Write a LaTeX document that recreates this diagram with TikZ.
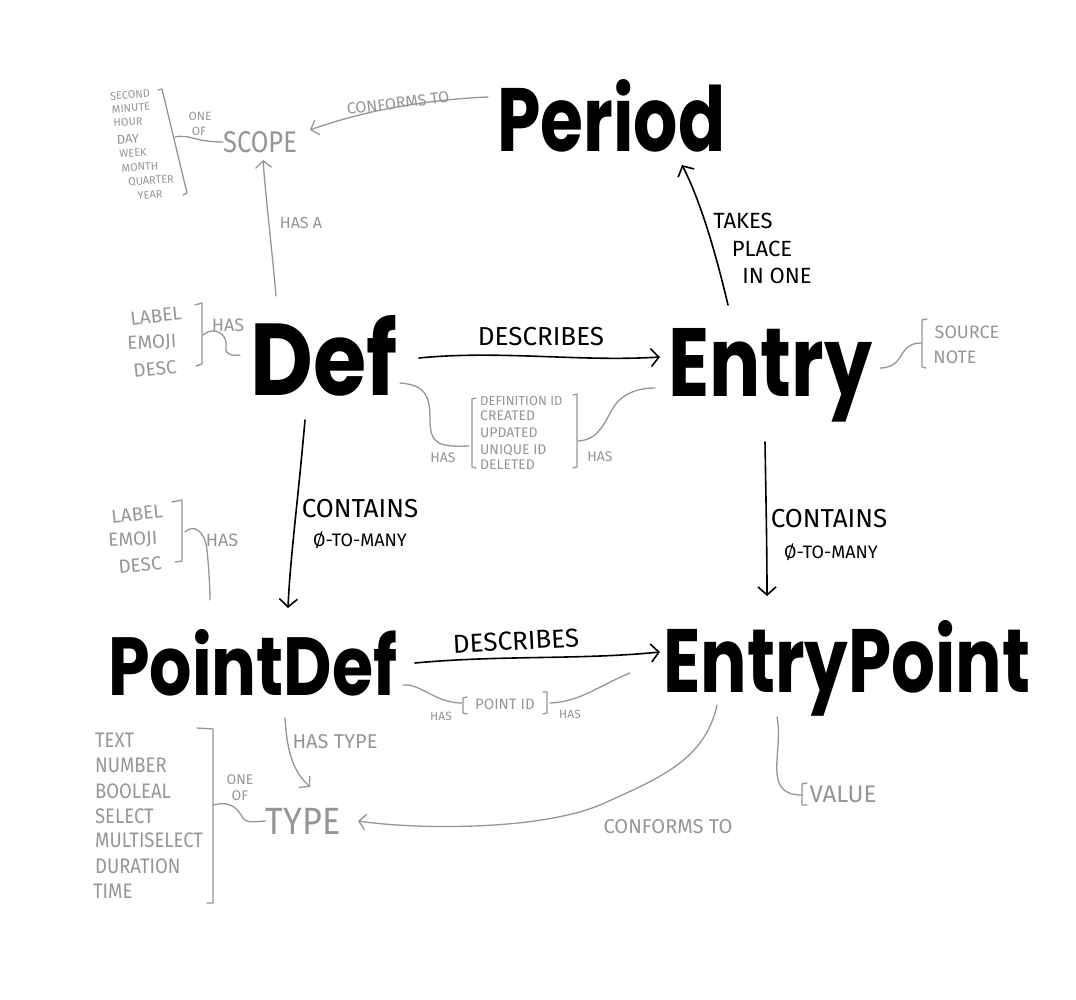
\documentclass[tikz,border=0pt]{standalone}
\usepackage{fontspec}
\setmainfont{Fira Sans}
\newfontfamily\bigf{Poppins}
\usetikzlibrary{arrows.meta}
\definecolor{gr}{RGB}{150,150,150}
\newcommand\bigword[3]{\resizebox{#1pt}{#2pt}{\bigf\bfseries #3}}
\begin{document}
\begin{tikzpicture}[x=1pt,y=-1pt,
  big/.style={inner sep=0,anchor=base west},
  gl/.style={inner sep=0,text=gr,font=\fontsize{#1}{#1}\selectfont},
  bl/.style={inner sep=0,text=black,font=\fontsize{#1}{#1}\selectfont},
  gline/.style={draw=gr,line width=1.3pt,line cap=round,line join=round},
  garr/.style={gline,-{Straight Barb[length=7pt,width=16pt]}},
  barr/.style={draw=black,line width=1.6pt,line cap=round,-{Straight Barb[length=8pt,width=18pt]}}]
\fill[white] (0,0) rectangle (1076,1000);
\useasboundingbox (0,0) rectangle (1076,1000);

% big words
\node[big] (period) at (497,152) {\bigword{228}{72}{Period}};
\node[big] (def) at (250,395) {\bigword{147}{80}{Def}};
\node[big] (entry) at (668,396) {\bigword{204}{68}{Entry}};
\node[big] (pointdef) at (108,695) {\bigword{289}{66}{PointDef}};
\node[big] (entrypoint) at (663,692) {\bigword{367}{72}{EntryPoint}};

% scope
\node[gl=30,xscale=0.85] (scope) at (260,142) {SCOPE};
\node[gl=16,rotate=7] (conf1) at (398,103) {CONFORMS TO};
\node[gl=12] (one1) at (200,116) {ONE};
\node[gl=12] (of1) at (199,131) {OF};
\node[gl=11,rotate=4] (s1) at (130,95) {SECOND};
\node[gl=11,rotate=4] (s2) at (131,108) {MINUTE};
\node[gl=11,rotate=3] (s3) at (128,122) {HOUR};
\node[gl=13,rotate=3] (s4) at (128,139) {DAY};
\node[gl=11,rotate=4] (s5) at (133,153) {WEEK};
\node[gl=11,rotate=4] (s6) at (140,167) {MONTH};
\node[gl=11,rotate=4] (s7) at (151,181) {QUARTER};
\node[gl=11,rotate=4] (s8) at (150,195) {YEAR};
\coordinate (sb1) at (158,90); \coordinate (sb2) at (162,89);
\coordinate (sb3) at (187,193); \coordinate (sb4) at (183,195);
\coordinate (sbm) at (175,137);
\draw[gline] (sb1) -- (sb2) -- (sb3) -- (sb4);
\draw[gline] (sbm) .. controls (190,134) and (195,142) .. (scope.west);
\coordinate (pc) at (488,97); \coordinate (sc1) at (310,130);
\draw[garr] (pc) .. controls (420,100) and (360,112) .. (sc1);
\coordinate (dtop) at (276,296); \coordinate (sc2) at (263,160);
\draw[garr] (dtop) .. controls (272,250) and (266,200) .. (sc2);
\node[gl=16] (hasa) at (301,223) {HAS A};

% main arrows
\coordinate (e1) at (728,305); \coordinate (p1) at (682,165);
\draw[barr] (e1) .. controls (715,250) and (700,200) .. (p1);
\node[bl=22] (takes) at (743,221) {TAKES};
\node[bl=22] (place) at (762,249) {PLACE};
\node[bl=22] (inone) at (777,276) {IN ONE};

\coordinate (d1) at (419,358); \coordinate (e2) at (660,357);
\draw[barr] (d1) .. controls (500,350) and (580,362) .. (e2);
\node[bl=26] (desc1) at (541,337) {DESCRIBES};

\coordinate (d2) at (305,420); \coordinate (pd1) at (288,608);
\draw[barr] (d2) .. controls (298,500) and (290,560) .. (pd1);
\node[bl=26] (cont1) at (360,509) {CONTAINS};
\node[bl=18] (many1) at (360,540) {Ø-TO-MANY};

\coordinate (e3) at (765,442); \coordinate (ep1) at (767,596);
\draw[barr] (e3) .. controls (766,500) and (767,550) .. (ep1);
\node[bl=26] (cont2) at (829,519) {CONTAINS};
\node[bl=18] (many2) at (831,552) {Ø-TO-MANY};

\coordinate (pd2) at (415,663); \coordinate (ep2) at (660,652);
\draw[barr] (pd2) .. controls (500,655) and (580,660) .. (ep2);
\node[bl=26,rotate=3] (desc2) at (516,641) {DESCRIBES};

% def attributes
\node[gl=19,rotate=6] (dl1) at (156,316) {LABEL};
\node[gl=19,rotate=3] (dl2) at (152,343) {EMOJI};
\node[gl=19,rotate=6] (dl3) at (155,369) {DESC};
\draw[gline] (195,305) -- (202,303) -- (202,364) -- (196,366);
\node[gl=18] (dhas) at (228,325) {HAS};
\coordinate (db) at (203,335); \coordinate (dd) at (240,355);
\draw[gline] (db) .. controls (215,325) and (228,335) .. (226,347) .. controls (225,355) and (232,356) .. (dd);

% shared attributes
\coordinate (d3) at (400,383); \coordinate (lb) at (469,446);
\draw[gline] (d3) .. controls (425,385) and (430,395) .. (430,420) .. controls (430,445) and (440,447) .. (lb);
\draw[gline] (476,398) -- (472,399) -- (472,467) -- (476,468);
\node[gl=14] (has2) at (443,458) {HAS};
\node[gl=13,anchor=west] (a1) at (480,401) {DEFINITION ID};
\node[gl=14,anchor=west] (a2) at (480,416) {CREATED};
\node[gl=14,anchor=west] (a3) at (480,433) {UPDATED};
\node[gl=14,anchor=west] (a4) at (480,450) {UNIQUE ID};
\node[gl=14,anchor=west] (a5) at (480,465) {DELETED};
\draw[gline] (573,395) -- (577,394) -- (577,467) -- (573,468);
\coordinate (rb) at (578,441); \coordinate (e4) at (655,388);
\draw[gline] (rb) .. controls (600,440) and (605,420) .. (615,405) .. controls (625,392) and (640,388) .. (e4);
\node[gl=14] (has3) at (600,457) {HAS};

% entry attributes
\coordinate (e5) at (880,368); \coordinate (srb) at (922,343);
\draw[gline] (e5) .. controls (898,368) and (900,355) .. (905,350) .. controls (910,344) and (915,343) .. (srb);
\draw[gline] (927,319) -- (922,320) -- (922,367) -- (926,368);
\node[gl=18] (src) at (967,332) {SOURCE};
\node[gl=18] (note) at (955,357) {NOTE};

% pointdef attributes
\node[gl=19,rotate=6] (pl1) at (137,514) {LABEL};
\node[gl=19,rotate=3] (pl2) at (133,540) {EMOJI};
\node[gl=19,rotate=5] (pl3) at (140,565) {DESC};
\draw[gline] (172,502) -- (182,500) -- (182,561) -- (175,562);
\node[gl=18] (phas) at (222,540) {HAS};
\coordinate (pb) at (185,532); \coordinate (pd3) at (210,600);
\draw[gline] (pb) .. controls (193,524) and (205,530) .. (207,550) .. controls (209,570) and (210,590) .. (pd3);

% point id
\coordinate (pd4) at (403,685); \coordinate (pil) at (462,703);
\draw[gline] (pd4) .. controls (420,683) and (435,703) .. (pil);
\node[gl=12] (has4) at (441,716) {HAS};
\draw[gline] (467,697) -- (463,698) -- (463,713) -- (467,714);
\node[gl=15] (pid) at (505,704) {POINT ID};
\draw[gline] (543,692) -- (547,692) -- (547,713) -- (543,714);
\coordinate (pir) at (550,703); \coordinate (ep3) at (630,673);
\draw[gline] (pir) .. controls (580,702) and (600,685) .. (ep3);
\node[gl=12] (has5) at (570,714) {HAS};

% type
\node[gl=38,xscale=0.9] (type) at (303,821) {TYPE};
\coordinate (pd5) at (285,718); \coordinate (ty1) at (310,787);
\draw[garr] (pd5) .. controls (287,750) and (292,770) .. (ty1);
\node[gl=20] (hastype) at (335,742) {HAS TYPE};
\node[gl=14] (one2) at (240,780) {ONE};
\node[gl=14] (of2) at (240,796) {OF};
\draw[gline] (197,728) -- (213,729) -- (213,903) -- (207,903);
\coordinate (tb) at (213,805);
\draw[gline] (tb) .. controls (232,800) and (238,810) .. (243,818) .. controls (247,823) and (250,822) .. (type.west);
\node[gl=21,anchor=west,xscale=0.88] (t1) at (95,740) {TEXT};
\node[gl=21,anchor=west,xscale=0.88] (t2) at (95,765) {NUMBER};
\node[gl=21,anchor=west,xscale=0.88] (t3) at (95,791) {BOOLEAL};
\node[gl=21,anchor=west,xscale=0.88] (t4) at (95,816) {SELECT};
\node[gl=21,anchor=west,xscale=0.88] (t5) at (95,840) {MULTISELECT};
\node[gl=21,anchor=west,xscale=0.88] (t6) at (95,866) {DURATION};
\node[gl=21,anchor=west,xscale=0.88] (t7) at (93,891) {TIME};
\coordinate (ep4) at (717,705); \coordinate (ty2) at (358,821);
\draw[garr] (ep4) .. controls (705,760) and (660,778) .. (600,805) .. controls (540,830) and (420,830) .. (ty2);
\node[gl=20] (conf2) at (668,827) {CONFORMS TO};

% value
\coordinate (ep5) at (777,717); \coordinate (vb) at (802,795);
\draw[gline] (ep5) .. controls (782,740) and (772,770) .. (780,785) .. controls (785,794) and (795,795) .. (vb);
\draw[gline] (807,783) -- (802,784) -- (802,805) -- (807,805);
\node[gl=24] (value) at (843,794) {VALUE};
\end{tikzpicture}
\end{document}
